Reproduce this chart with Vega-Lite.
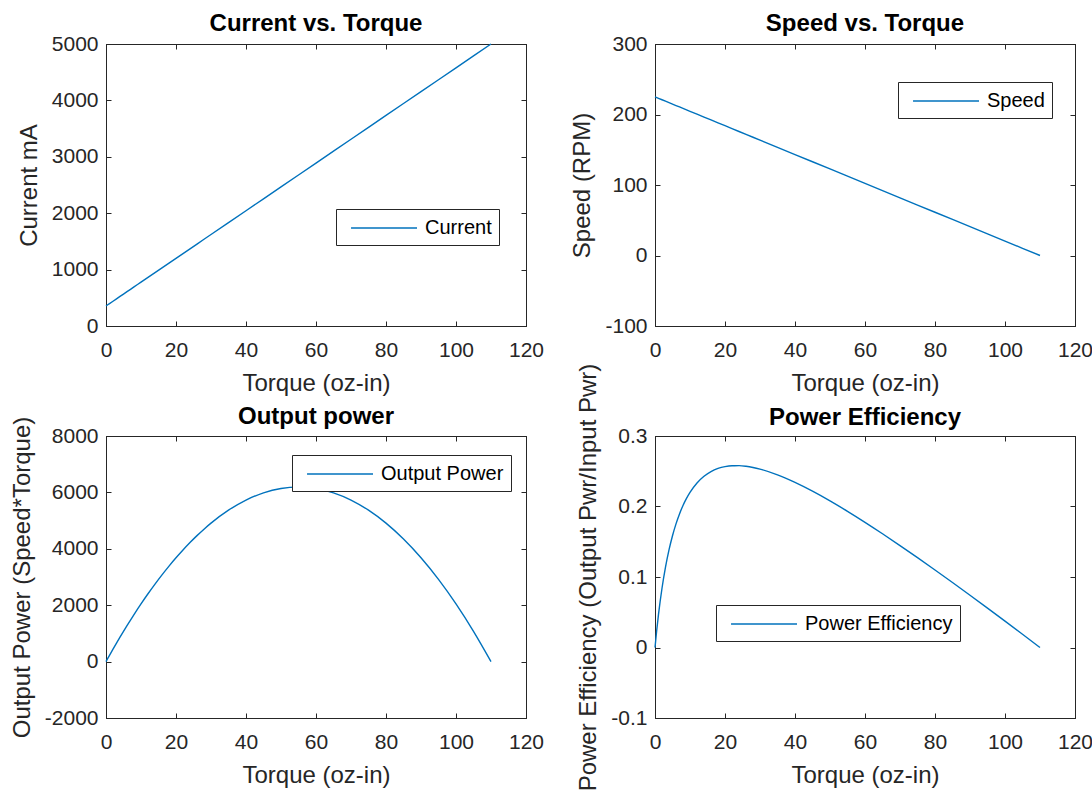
{
  "$schema": "https://vega.github.io/schema/vega-lite/v6.json",
  "autosize": {"type": "pad"},
  "padding": {"left": 9, "top": 11, "right": 5, "bottom": 5},
  "background": "white",
  "datasets": {
    "motor": [
      {"t": 0, "i": 355, "s": 225, "p": 0, "e": 0},
      {"t": 0.5, "i": 376.1, "s": 223.98, "p": 112.0, "e": 0.02489},
      {"t": 1, "i": 397.2, "s": 222.95, "p": 222.95, "e": 0.04693},
      {"t": 2, "i": 439.5, "s": 220.91, "p": 441.8, "e": 0.08404},
      {"t": 3, "i": 481.7, "s": 218.86, "p": 656.6, "e": 0.11395},
      {"t": 4, "i": 523.9, "s": 216.82, "p": 867.3, "e": 0.13839},
      {"t": 5, "i": 566.1, "s": 214.77, "p": 1073.9, "e": 0.15859},
      {"t": 6, "i": 608.4, "s": 212.73, "p": 1276.4, "e": 0.17538},
      {"t": 7, "i": 650.6, "s": 210.68, "p": 1474.8, "e": 0.1895},
      {"t": 8, "i": 692.8, "s": 208.64, "p": 1669.1, "e": 0.20141},
      {"t": 9, "i": 735.0, "s": 206.59, "p": 1859.3, "e": 0.21148},
      {"t": 10, "i": 777.3, "s": 204.55, "p": 2045.5, "e": 0.21999},
      {"t": 12, "i": 861.7, "s": 200.45, "p": 2405.5, "e": 0.23337},
      {"t": 14, "i": 946.2, "s": 196.36, "p": 2749.1, "e": 0.24289},
      {"t": 16, "i": 1030.6, "s": 192.27, "p": 3076.4, "e": 0.24955},
      {"t": 18, "i": 1115.1, "s": 188.18, "p": 3387.3, "e": 0.25395},
      {"t": 20, "i": 1199.5, "s": 184.09, "p": 3681.8, "e": 0.25661},
      {"t": 22, "i": 1284.0, "s": 180.0, "p": 3960.0, "e": 0.25783},
      {"t": 24, "i": 1368.4, "s": 175.91, "p": 4221.8, "e": 0.25792},
      {"t": 26, "i": 1452.9, "s": 171.82, "p": 4467.3, "e": 0.25705},
      {"t": 28, "i": 1537.4, "s": 167.73, "p": 4696.4, "e": 0.25538},
      {"t": 30, "i": 1621.8, "s": 163.64, "p": 4909.1, "e": 0.25305},
      {"t": 35, "i": 1832.9, "s": 153.41, "p": 5369.3, "e": 0.2449},
      {"t": 40, "i": 2044.1, "s": 143.18, "p": 5727.3, "e": 0.23424},
      {"t": 45, "i": 2255.2, "s": 132.95, "p": 5982.9, "e": 0.22179},
      {"t": 50, "i": 2466.4, "s": 122.73, "p": 6136.4, "e": 0.208},
      {"t": 55, "i": 2677.5, "s": 112.5, "p": 6187.5, "e": 0.19319},
      {"t": 60, "i": 2888.6, "s": 102.27, "p": 6136.4, "e": 0.1776},
      {"t": 65, "i": 3099.8, "s": 92.05, "p": 5982.9, "e": 0.16136},
      {"t": 70, "i": 3310.9, "s": 81.82, "p": 5727.3, "e": 0.14461},
      {"t": 75, "i": 3522.0, "s": 71.59, "p": 5369.3, "e": 0.12745},
      {"t": 80, "i": 3733.2, "s": 61.36, "p": 4909.1, "e": 0.10993},
      {"t": 85, "i": 3944.3, "s": 51.14, "p": 4346.6, "e": 0.09213},
      {"t": 90, "i": 4155.4, "s": 40.91, "p": 3681.8, "e": 0.07407},
      {"t": 95, "i": 4366.6, "s": 30.68, "p": 2914.8, "e": 0.0558},
      {"t": 100, "i": 4577.7, "s": 20.45, "p": 2045.5, "e": 0.03736},
      {"t": 105, "i": 4788.8, "s": 10.23, "p": 1073.9, "e": 0.01875},
      {"t": 110, "i": 5000, "s": 0, "p": 0, "e": 0}
    ]
  },
  "columns": 2,
  "spacing": {"row": 110, "column": 129},
  "bounds": "flush",
  "resolve": {"scale": {"color": "independent"}, "legend": {"color": "independent"}},
  "concat": [
    {
      "title": {"text": "Current vs. Torque"},
      "width": 420, "height": 282,
      "data": {"name": "motor"},
      "resolve": {"axis": {"x": "independent", "y": "independent"}},
      "layer": [
        {
          "mark": {"type": "line", "strokeWidth": 1.4},
          "encoding": {
            "x": {"field": "t", "type": "quantitative", "scale": {"domain": [0, 120], "nice": false, "zero": false},
                  "axis": {"title": "Torque (oz-in)", "values": [0, 20, 40, 60, 80, 100, 120], "labelExpr": "'' + datum.value"}},
            "y": {"field": "i", "type": "quantitative", "scale": {"domain": [0, 5000], "nice": false, "zero": false},
                  "axis": {"title": "Current mA", "values": [0, 1000, 2000, 3000, 4000, 5000], "labelExpr": "'' + datum.value"}},
            "color": {"datum": "Current", "type": "nominal", "scale": {"range": ["#0072BD"]},
                      "legend": {"title": null, "legendX": 230, "legendY": 165}}
          }
        },
        {
          "mark": {"type": "line", "strokeOpacity": 0},
          "encoding": {
            "x": {"field": "t", "type": "quantitative", "axis": {"orient": "top", "labels": false, "title": null, "values": [0, 20, 40, 60, 80, 100, 120]}},
            "y": {"field": "i", "type": "quantitative", "axis": {"orient": "right", "labels": false, "title": null, "values": [0, 1000, 2000, 3000, 4000, 5000]}}
          }
        }
      ]
    },
    {
      "title": {"text": "Speed vs. Torque"},
      "width": 420, "height": 282,
      "data": {"name": "motor"},
      "resolve": {"axis": {"x": "independent", "y": "independent"}},
      "layer": [
        {
          "mark": {"type": "line", "strokeWidth": 1.4},
          "encoding": {
            "x": {"field": "t", "type": "quantitative", "scale": {"domain": [0, 120], "nice": false, "zero": false},
                  "axis": {"title": "Torque (oz-in)", "values": [0, 20, 40, 60, 80, 100, 120], "labelExpr": "'' + datum.value"}},
            "y": {"field": "s", "type": "quantitative", "scale": {"domain": [-100, 300], "nice": false, "zero": false},
                  "axis": {"title": "Speed (RPM)", "values": [-100, 0, 100, 200, 300], "labelExpr": "'' + datum.value"}},
            "color": {"datum": "Speed", "type": "nominal", "scale": {"range": ["#0072BD"]},
                      "legend": {"title": null, "legendX": 243, "legendY": 38}}
          }
        },
        {
          "mark": {"type": "line", "strokeOpacity": 0},
          "encoding": {
            "x": {"field": "t", "type": "quantitative", "axis": {"orient": "top", "labels": false, "title": null, "values": [0, 20, 40, 60, 80, 100, 120]}},
            "y": {"field": "s", "type": "quantitative", "axis": {"orient": "right", "labels": false, "title": null, "values": [-100, 0, 100, 200, 300]}}
          }
        }
      ]
    },
    {
      "title": {"text": "Output power", "dy": 10},
      "width": 420, "height": 282,
      "data": {"name": "motor"},
      "resolve": {"axis": {"x": "independent", "y": "independent"}},
      "layer": [
        {
          "mark": {"type": "line", "strokeWidth": 1.4, "interpolate": "monotone"},
          "encoding": {
            "x": {"field": "t", "type": "quantitative", "scale": {"domain": [0, 120], "nice": false, "zero": false},
                  "axis": {"title": "Torque (oz-in)", "values": [0, 20, 40, 60, 80, 100, 120], "labelExpr": "'' + datum.value"}},
            "y": {"field": "p", "type": "quantitative", "scale": {"domain": [-2000, 8000], "nice": false, "zero": false},
                  "axis": {"title": "Output Power (Speed*Torque)", "values": [-2000, 0, 2000, 4000, 6000, 8000], "labelExpr": "'' + datum.value"}},
            "color": {"datum": "Output Power", "type": "nominal", "scale": {"range": ["#0072BD"]},
                      "legend": {"title": null, "legendX": 186, "legendY": 19}}
          }
        },
        {
          "mark": {"type": "line", "strokeOpacity": 0},
          "encoding": {
            "x": {"field": "t", "type": "quantitative", "axis": {"orient": "top", "labels": false, "title": null, "values": [0, 20, 40, 60, 80, 100, 120]}},
            "y": {"field": "p", "type": "quantitative", "axis": {"orient": "right", "labels": false, "title": null, "values": [-2000, 0, 2000, 4000, 6000, 8000]}}
          }
        }
      ]
    },
    {
      "title": {"text": "Power Efficiency", "dy": 64},
      "width": 420, "height": 282,
      "data": {"name": "motor"},
      "resolve": {"axis": {"x": "independent", "y": "independent"}},
      "layer": [
        {
          "mark": {"type": "line", "strokeWidth": 1.4, "interpolate": "monotone"},
          "encoding": {
            "x": {"field": "t", "type": "quantitative", "scale": {"domain": [0, 120], "nice": false, "zero": false},
                  "axis": {"title": "Torque (oz-in)", "values": [0, 20, 40, 60, 80, 100, 120], "labelExpr": "'' + datum.value"}},
            "y": {"field": "e", "type": "quantitative", "scale": {"domain": [-0.1, 0.3], "nice": false, "zero": false},
                  "axis": {"title": "Power Efficiency (Output Pwr/Input Pwr)", "values": [-0.1, 0, 0.1, 0.2, 0.3], "labelExpr": "'' + datum.value"}},
            "color": {"datum": "Power Efficiency", "type": "nominal", "scale": {"range": ["#0072BD"]},
                      "legend": {"title": null, "legendX": 61, "legendY": 169}}
          }
        },
        {
          "mark": {"type": "line", "strokeOpacity": 0},
          "encoding": {
            "x": {"field": "t", "type": "quantitative", "axis": {"orient": "top", "labels": false, "title": null, "values": [0, 20, 40, 60, 80, 100, 120]}},
            "y": {"field": "e", "type": "quantitative", "axis": {"orient": "right", "labels": false, "title": null, "values": [-0.1, 0, 0.1, 0.2, 0.3]}}
          }
        }
      ]
    }
  ],
  "config": {
    "font": "Liberation Sans",
    "view": {"stroke": "#262626", "strokeWidth": 1},
    "axis": {
      "grid": false,
      "domainColor": "#262626",
      "domainWidth": 1,
      "tickColor": "#262626",
      "tickSize": -5,
      "tickWidth": 1,
      "labelColor": "#262626",
      "labelFont": "Liberation Sans",
      "labelFontSize": 21,
      "labelFlush": false,
      "labelOverlap": false,
      "titleColor": "#262626",
      "titleFont": "Liberation Sans",
      "titleFontSize": 24,
      "titleFontWeight": "normal"
    },
    "axisBottom": {"labelPadding": 18, "titlePadding": 11},
    "axisLeft": {"labelPadding": 13, "titlePadding": 10},
    "title": {"font": "Liberation Sans", "fontSize": 24, "fontWeight": "bold", "color": "#000000", "baseline": "alphabetic", "offset": -3, "frame": "group"},
    "legend": {
      "orient": "none",
      "strokeColor": "#262626",
      "fillColor": "white",
      "padding": 7,
      "labelFont": "Liberation Sans",
      "labelFontSize": 20,
      "labelColor": "#000000",
      "symbolType": "M-0.36,0H5.64",
      "symbolSize": 484,
      "symbolStrokeWidth": 1.5,
      "labelOffset": 58
    }
  }
}
